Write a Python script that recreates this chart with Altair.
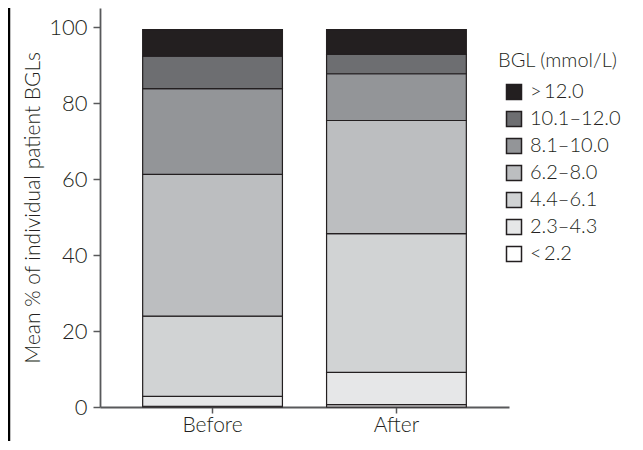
import altair as alt
import pandas as pd

groups = ["Before", "After"]
bands = ["<\u20092.2", "2.3\u20134.3", "4.4\u20136.1", "6.2\u20138.0", "8.1\u201310.0", "10.1\u201312.0", ">\u200912.0"]
before = [0.2, 2.6, 21.1, 37.3, 22.6, 8.5, 7.0]
after = [0.6, 8.5, 36.5, 29.8, 12.3, 5.1, 6.5]
colors = ["#ffffff", "#e6e7e8", "#d1d3d4", "#bcbec0", "#939598", "#6d6e71", "#231f20"]

rows = []
for g, vals in zip(groups, [before, after]):
    for i, (b, v) in enumerate(zip(bands, vals)):
        rows.append({"group": g, "band": b, "idx": i, "value": v})
df = pd.DataFrame(rows)

FONT = "Lato"
INK = "#231f20"
W = 300

bars = alt.Chart(df).mark_bar(stroke=INK, strokeWidth=1.2).encode(
    x=alt.X("group:N", sort=groups, title=None,
            scale=alt.Scale(paddingInner=0.24, paddingOuter=0.232),
            axis=alt.Axis(labelAngle=0, labelFontSize=21, labelPadding=1,
                          tickSize=6, labelColor=INK)),
    y=alt.Y("value:Q", stack="zero",
            title="Mean % of individual patient BGLs",
            scale=alt.Scale(domain=[0, 105], nice=False),
            axis=alt.Axis(values=[0, 20, 40, 60, 80, 100], labelFontSize=22,
                          tickSize=7, labelPadding=6, titleFontSize=21,
                          titlePadding=5, grid=False, labelColor=INK,
                          titleColor=INK)),
    color=alt.Color("band:N", sort=bands[::-1],
                    scale=alt.Scale(domain=bands[::-1], range=colors[::-1]),
                    legend=alt.Legend(title="BGL (mmol/L)", orient="none",
                                      legendX=398, legendY=43,
                                      symbolType="square", symbolSize=225,
                                      symbolStrokeColor=INK, symbolStrokeWidth=1.5,
                                      symbolOffset=6, labelOffset=6,
                                      rowPadding=5, titlePadding=11,
                                      titleFontSize=20, labelFontSize=20,
                                      titleFontWeight=W, labelColor=INK,
                                      titleColor=INK)),
    order=alt.Order("idx:Q", sort="ascending"),
)

frame = alt.Chart(pd.DataFrame({"k": [0]})).mark_rule(color="#000000", strokeWidth=2.5).encode(
    x=alt.value(-91), y=alt.value(-8), y2=alt.value(440)
)

chart = alt.layer(bars, frame).properties(
    width=409, height=399,
    autosize=alt.AutoSizeParams(type="none"),
    padding={"left": 92, "top": 0, "right": 124, "bottom": 34},
).configure_view(stroke=None).configure_axis(
    labelFont=FONT, titleFont=FONT, labelFontWeight=W, titleFontWeight=W,
    domainColor="#58595b", domainWidth=1.8, tickColor="#58595b", tickWidth=1.5,
).configure_legend(labelFont=FONT, titleFont=FONT, labelFontWeight=W)

chart.save("out.html", embed_options={"renderer": "svg", "actions": False})
